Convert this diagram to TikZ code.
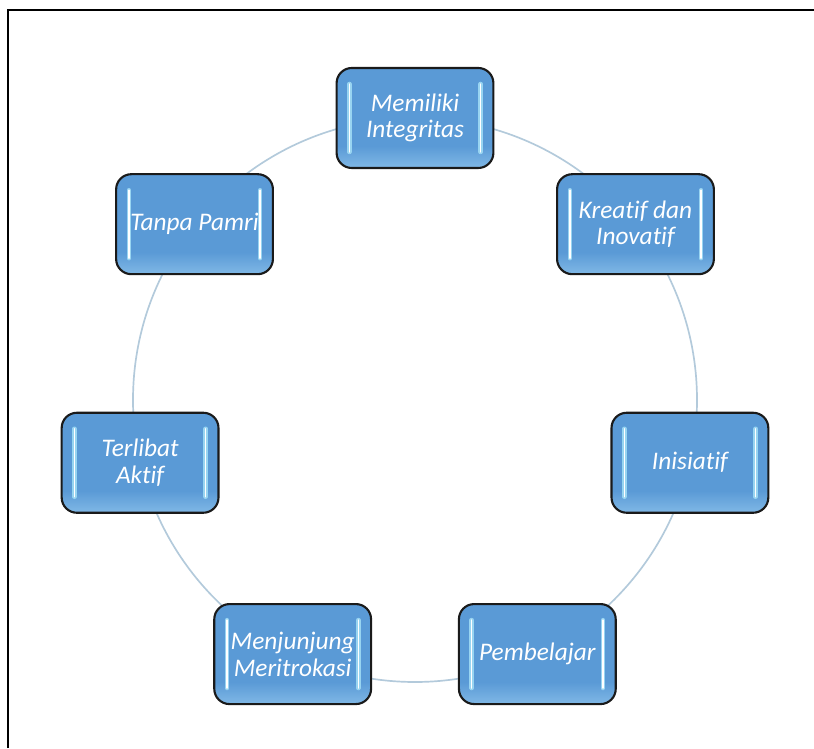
\documentclass[tikz,border=0pt]{standalone}
\usepackage{fontspec}
\setmainfont[Ligatures=NoCommon]{Carlito}
\usepackage{tikz}
\usetikzlibrary{calc,positioning}
\definecolor{valfill}{HTML}{5A9AD6}
\definecolor{valfilllow}{HTML}{80B8E6}
\definecolor{valedge}{HTML}{1A1A1A}
\definecolor{valshine}{HTML}{A8E2F8}
\definecolor{ringline}{HTML}{B3CADB}
\pgfdeclareverticalshading{valshade}{100bp}{color(0bp)=(valfilllow); color(25bp)=(valfilllow);
  color(36bp)=(valfill); color(100bp)=(valfill)}
\tikzset{
  ring/.style={draw=ringline, line width=1.2pt},
  frameline/.style={line width=1.4pt, black},
  valbox/.style={draw=valedge, line width=1.5pt, rounded corners=0.38cm,
    shading=valshade,
    minimum width=3.92cm, minimum height=2.5cm, align=center, inner sep=1pt,
    text=white, font=\fontsize{18}{19}\selectfont\itshape,
    path picture={
      \foreach \wd/\col in {3.2pt/valshine!80!valfill, 1pt/white} {
        \draw[\col, line width=\wd, line cap=round]
          ([xshift=0.32cm, yshift=0.4cm]path picture bounding box.south west)
          -- ([xshift=0.32cm, yshift=-0.4cm]path picture bounding box.north west);
        \draw[\col, line width=\wd, line cap=round]
          ([xshift=-0.32cm, yshift=0.4cm]path picture bounding box.south east)
          -- ([xshift=-0.32cm, yshift=-0.4cm]path picture bounding box.north east);
      }
    }}
}
\begin{document}
\begin{tikzpicture}
  \useasboundingbox (0,0) rectangle (20.35,18.7);
  % frame
  \draw[frameline] (0.19,0) -- (0.19,18.45) -- (20.35,18.45);

  % ring
  \coordinate (pusat) at (10.375,8.7);
  \draw[ring] (pusat) circle (7.05);

  % values around the ring
  \node[valbox] (integritas) at ($(pusat)+(90:7.05)$) {Memiliki\\Integritas};
  \node[valbox] (kreatif) at ($(pusat)+(38.57:7.05)$) {Kreatif dan\\Inovatif};
  \node[valbox] (inisiatif) at ($(pusat)+(-12.86:7.05)$) {Inisiatif};
  \node[valbox] (pembelajar) at ($(pusat)+(-64.29:7.05)$) {Pembelajar};
  \node[valbox] (meritokrasi) at ($(pusat)+(-115.71:7.05)$) {Menjunjung\\Meritrokasi};
  \node[valbox] (aktif) at ($(pusat)+(-167.14:7.05)$) {Terlibat\\Aktif};
  \node[valbox] (pamri) at ($(pusat)+(141.43:7.05)$) {Tanpa Pamri};
\end{tikzpicture}
\end{document}
